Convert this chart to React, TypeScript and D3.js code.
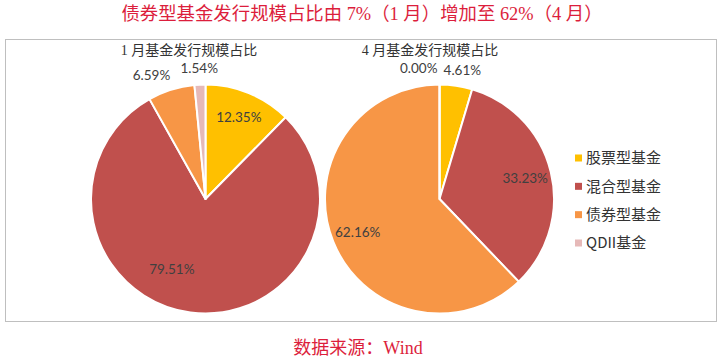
import React, { useRef, useEffect } from 'react';
import * as d3 from 'd3';

const categories = ['股票型基金', '混合型基金', '债券型基金', 'QDII基金'];
const colors = ['#FFC000', '#C0504D', '#F79646', '#E6B9B8'];
const janValues = [12.35, 79.51, 6.59, 1.54];
const aprValues = [4.61, 33.23, 62.16, 0.0];
const pieTitles = ['1 月基金发行规模占比', '4 月基金发行规模占比'];

const chartTitle = '债券型基金发行规模占比由 7%（1 月）增加至 62%（4 月）';
const sourceText = '数据来源：Wind';

// small manual nudges (px) for labels that Excel moved off their default spot
const labelNudge = [
    [[0, 0], [-22, -17], [-15, 1], [0, 0]],
    [[4, 0], [0, 0], [0, 0], [0, 0]],
];

const width = 723;
const height = 360;

const App: React.FC = () => {
    const svgRef = useRef<SVGSVGElement>(null);

    useEffect(() => {
        if (!svgRef.current) return;
        const svg = d3.select(svgRef.current);
        svg.selectAll('*').remove();

        const serif = "'Liberation Serif', 'Noto Sans CJK SC', serif";
        const cjk = "'Noto Sans CJK SC', sans-serif";
        const labelFont = "Lato, 'Noto Sans', sans-serif";

        // outer frame
        svg.append('rect')
            .attr('x', 5.5)
            .attr('y', 39.5)
            .attr('width', 711)
            .attr('height', 282)
            .attr('fill', '#fff')
            .attr('stroke', '#BFBFBF')
            .attr('stroke-width', 1);

        svg.append('text')
            .attr('x', 362)
            .attr('y', 20)
            .attr('text-anchor', 'middle')
            .attr('font-family', serif)
            .attr('font-size', '18.4px')
            .attr('fill', '#DC1E3C')
            .text(chartTitle);

        svg.append('text')
            .attr('x', 358)
            .attr('y', 354)
            .attr('text-anchor', 'middle')
            .attr('font-family', serif)
            .attr('font-size', '18px')
            .attr('fill', '#DC1E3C')
            .text(sourceText);

        const radius = 114.5;
        const centers = [{ x: 205.5, y: 199 }, { x: 439.5, y: 199 }];
        const titleX = [189, 430];

        const pie = d3.pie<number>().sort(null).value(d => d);
        const arc = d3.arc<d3.PieArcDatum<number>>().innerRadius(0).outerRadius(radius);

        [janValues, aprValues].forEach((values, pi) => {
            const c = centers[pi];
            const g = svg.append('g').attr('transform', `translate(${c.x},${c.y})`);
            const arcs = pie(values);

            g.selectAll('path.slice')
                .data(arcs)
                .enter()
                .append('path')
                .attr('class', 'slice')
                .attr('d', arc)
                .attr('fill', (_, i) => colors[i])
                .attr('stroke', '#fff')
                .attr('stroke-width', 2)
                .attr('stroke-linejoin', 'round');

            svg.append('text')
                .attr('x', titleX[pi])
                .attr('y', 55)
                .attr('text-anchor', 'middle')
                .attr('font-family', serif)
                .attr('font-size', '14px')
                .attr('fill', '#333')
                .text(pieTitles[pi]);

            arcs.forEach((a, i) => {
                const share = a.value / 100;
                const mid = (a.startAngle + a.endAngle) / 2;
                const inside = share > 0.1;
                const r = inside ? radius * 0.77 : radius + 16;
                let x = Math.sin(mid) * r + labelNudge[pi][i][0];
                const y = -Math.cos(mid) * r + labelNudge[pi][i][1];
                let anchor = 'middle';
                if (a.value === 0) {
                    anchor = 'end';
                    x -= 2;
                }
                g.append('text')
                    .attr('x', x)
                    .attr('y', y)
                    .attr('dy', '0.35em')
                    .attr('text-anchor', anchor)
                    .attr('font-family', labelFont)
                    .attr('font-size', '13.5px')
                    .attr('fill', '#404040')
                    .text(`${a.value.toFixed(2)}%`);
            });
        });

        // legend
        const legendY = d3.scalePoint<string>()
            .domain(categories)
            .range([158, 243]);

        const legend = svg.append('g');
        categories.forEach((cat, i) => {
            const y = legendY(cat) as number;
            legend.append('rect')
                .attr('x', 575)
                .attr('y', y - 3.5)
                .attr('width', 7)
                .attr('height', 7)
                .attr('fill', colors[i]);
            legend.append('text')
                .attr('x', 586)
                .attr('y', y)
                .attr('dy', '0.35em')
                .attr('font-family', cjk)
                .attr('font-size', '15px')
                .attr('fill', '#333')
                .text(cat);
        });
    }, []);

    return (
        <svg
            ref={svgRef}
            width={width}
            height={height}
            style={{ position: 'absolute', left: 0, top: 0, background: '#fff' }}
        />
    );
};

export default App;
